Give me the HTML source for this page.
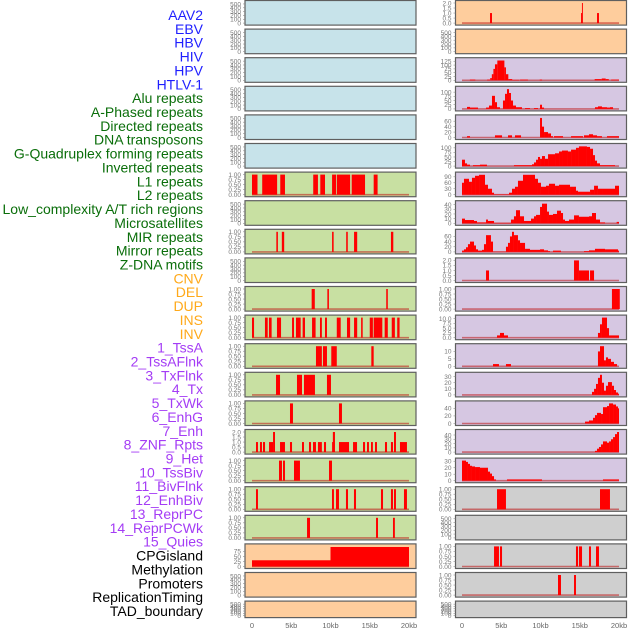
<!DOCTYPE html>
<html><head><meta charset="utf-8">
<style>
html,body{margin:0;padding:0;background:#fff;}
svg{display:block;font-family:"Liberation Sans",sans-serif;}
</style></head>
<body>
<svg id="chart" width="630" height="630" viewBox="0 0 630 630" xmlns="http://www.w3.org/2000/svg"></svg>
<script>
// ---- labels ----
const trackLabels = ["AAV2","EBV","HBV","HIV","HPV","HTLV-1","Alu repeats","A-Phased repeats","Directed repeats","DNA transposons","G-Quadruplex forming repeats","Inverted repeats","L1 repeats","L2 repeats","Low_complexity A/T rich regions","Microsatellites","MIR repeats","Mirror repeats","Z-DNA motifs","CNV","DEL","DUP","INS","INV","1_TssA","2_TssAFlnk","3_TxFlnk","4_Tx","5_TxWk","6_EnhG","7_Enh","8_ZNF_Rpts","9_Het","10_TssBiv","11_BivFlnk","12_EnhBiv","13_ReprPC","14_ReprPCWk","15_Quies","CPGisland","Methylation","Promoters","ReplicationTiming","TAD_boundary"];
const labelGroups = ["virus","virus","virus","virus","virus","virus","rep","rep","rep","rep","rep","rep","rep","rep","rep","rep","rep","rep","rep","sv","sv","sv","sv","sv","hmm","hmm","hmm","hmm","hmm","hmm","hmm","hmm","hmm","hmm","hmm","hmm","hmm","hmm","hmm","oth","oth","oth","oth","oth"];
const xTickValues = [0,5,10,15,20];
const xTickLabels = ["0","5kb","10kb","15kb","20kb"];

// ---- tick sets ----
const ticksEmpty = [0,100,200,300,400,500];
const ticksUnit = [0,0.25,0.5,0.75,1];
const ticksUnitLbl = ["0.00","0.25","0.50","0.75","1.00"];
const ticksTwo = [0,0.5,1,1.5,2];
const ticksTwoLbl = ["0.0","0.5","1.0","1.5","2.0"];

// ---- left column data [startKb,endKb,value] ----
const leftL1 = [[0,0.7,1],[1.3,3.2,1],[3.6,4.2,1],[7.8,8.4,1],[8.7,9.3,1],[10.2,10.7,1],[10.8,12.5,1],[12.7,14.4,1],[15.5,16,1]];
const leftRow8 = [[3.1,3.3,1],[3.8,4.1,1],[10.2,10.4,1],[12.0,12.2,1],[13.0,13.4,1],[17.7,18.0,1]];
const leftRow10 = [[7.6,8.0,1],[9.6,9.8,1],[17.1,17.3,1]];
const leftRow11 = [[0,0.26,1],[1.65,2.0,1],[2.16,2.5,1],[3.18,3.7,1],[5.1,5.35,1],[5.6,6.2,1],[6.45,6.75,1],[7.65,8.1,1],[8.66,8.9,1],[9.3,9.55,1],[10.8,11.3,1],[12.1,12.5,1],[13.0,13.4,1],[13.9,14.1,1],[15.0,15.4,1],[15.5,16.6,1],[16.9,17.3,1],[17.8,18.2,1],[18.5,18.8,1]];
const leftRow12 = [[8.15,8.9,1],[9.04,9.55,1],[10.1,10.8,1],[15.2,15.5,1]];
const leftRow13 = [[3.06,3.57,1],[5.73,6.37,1],[6.62,8.02,1],[9.55,10.06,1]];
const leftRow14 = [[4.84,5.22,1],[11.08,11.46,1]];
const leftRow15 = [[0.51,0.76,1],[1.02,1.27,1],[1.4,1.66,1],[2.17,2.42,1],[2.42,2.68,1],[2.68,2.93,2],[3.57,4.2,1],[4.84,5.1,1],[6.37,6.62,1],[7.26,7.52,1],[7.77,8.15,1],[8.4,8.9,1],[9.17,9.43,1],[10.19,10.3,1],[10.3,10.57,2],[11.08,12.36,1],[12.87,13.38,1],[14.14,14.4,1],[14.65,14.9,1],[15.16,15.4,1],[15.67,15.92,1],[16.94,17.2,1],[17.7,17.96,1],[18.09,18.34,2],[18.85,19.74,1]];
const leftRow16 = [[3.44,3.82,1],[3.95,4.2,1],[5.35,6.11,1],[9.81,10.19,1]];
const leftRow17 = [[0.51,0.76,1],[10.19,10.44,1],[10.7,11.08,1],[11.97,12.23,1],[12.99,13.25,1],[16.43,16.69,1],[17.7,17.96,1],[18.09,18.34,1],[19.36,19.74,1]];
const leftRow18 = [[7.01,7.39,1],[15.8,16.05,1],[17.96,18.2,1]];
const leftMethyl = [[0,10,31],[10,20,97]];

// ---- right column data ----
const rightAAV2 = [[3.57,3.82,1],[15.16,15.28,1],[15.28,15.4,2],[17.2,17.45,1]];
const rightHIV = [[1.0,1.7,5],[3.2,3.6,5],[3.6,3.8,15],[3.8,4.0,40],[4.0,4.2,75],[4.2,4.5,105],[4.5,5.4,130],[5.4,5.6,85],[5.6,5.9,40],[5.9,6.4,8],[6.4,7.3,3],[7.4,8.4,5],[9.9,10.2,5],[16.9,17.8,8],[17.8,18.3,12],[18.3,18.7,8],[19.0,20,5]];
const rightAlu = [[0.64,1.02,12],[1.02,2.04,8],[3.06,3.44,8],[3.44,3.82,20],[3.82,4.2,78],[4.2,4.46,40],[4.46,4.84,10],[5.22,5.48,50],[5.48,5.73,90],[5.73,5.99,118],[5.99,6.24,95],[6.24,6.5,50],[6.5,6.88,20],[6.88,7.64,10],[8.03,8.66,5],[9.17,9.68,5],[9.94,10.19,25],[10.19,10.45,8],[16.94,17.32,10],[17.32,17.83,15],[17.83,18.47,10],[18.47,18.85,8],[18.85,19.24,10]];
const rightAPhased = [[0.64,1.02,5],[4.2,5.1,8],[5.86,6.37,8],[6.75,7.52,8],[9.94,10.19,72],[10.19,10.45,40],[10.45,10.96,20],[10.96,11.34,15],[11.34,11.59,5],[11.72,12.87,5],[13.89,15.41,5],[15.54,16.18,8],[16.18,16.69,12],[16.69,17.2,8],[17.2,17.83,5],[18.47,20,5]];
const rightDNAtrans = [[0,0.38,35],[0.38,0.64,15],[0.64,1.02,8],[1.4,2.29,5],[2.29,3.18,8],[6.62,8.92,5],[8.92,9.17,10],[9.17,9.43,20],[9.43,9.68,35],[9.68,9.94,50],[9.94,10.19,40],[10.19,10.57,55],[10.57,10.96,40],[10.96,11.85,65],[11.85,12.36,70],[12.36,12.74,80],[12.74,13.5,85],[13.5,13.89,80],[13.89,14.52,90],[14.52,14.9,100],[14.9,15.92,108],[15.92,16.31,105],[16.31,16.69,95],[16.69,16.94,60],[16.94,17.2,30],[17.2,17.58,15],[17.58,17.96,5],[17.96,19.49,5]];
const rightL1 = [[0,0.25,60],[0.25,0.89,80],[0.89,1.27,65],[1.27,1.66,85],[1.66,2.17,95],[2.17,2.93,100],[2.93,3.31,50],[3.31,3.82,30],[3.82,4.08,10],[4.08,5.99,2],[5.99,6.37,10],[6.37,6.75,30],[6.75,7.13,40],[7.13,7.77,70],[7.77,9.3,100],[9.3,9.68,80],[9.68,10.06,60],[10.06,10.7,40],[10.7,11.08,45],[11.08,11.85,55],[11.85,12.36,45],[12.36,13.76,50],[13.76,14.52,40],[14.52,14.78,20],[14.78,16.31,15],[16.31,16.82,25],[16.82,17.32,45],[17.32,17.96,30],[17.96,19.49,30],[19.49,20,45]];
const rightL2 = [[0,0.38,10],[0.38,1.53,7],[1.53,1.91,5],[1.91,3.06,2],[3.06,3.31,8],[3.31,4.08,5],[4.08,6.24,1],[6.24,6.62,8],[6.62,6.88,15],[6.88,7.39,28],[7.39,7.9,15],[7.9,8.79,5],[8.79,9.17,10],[9.17,9.43,15],[9.43,9.94,18],[9.94,10.19,35],[10.19,10.83,42],[10.83,11.08,25],[11.08,11.59,18],[11.59,12.1,20],[12.1,12.61,27],[12.61,12.87,22],[12.87,13.12,8],[13.12,13.63,5],[13.63,14.27,8],[14.27,14.9,17],[14.9,16.18,14],[16.18,16.56,15],[16.56,17.07,22],[17.07,17.58,8],[17.58,18.22,2],[19.7,20,3]];
const rightLowComp = [[0,0.25,5],[0.25,0.51,10],[0.51,0.76,18],[0.76,1.02,30],[1.02,1.53,40],[1.53,1.78,25],[1.78,2.04,10],[2.04,2.55,5],[2.55,2.8,8],[2.8,3.06,30],[3.06,3.69,65],[3.69,3.95,40],[3.95,5.6,1],[5.6,5.86,20],[5.86,6.11,35],[6.11,6.37,60],[6.37,6.62,78],[6.62,7.13,65],[7.13,7.39,45],[7.39,8.03,35],[8.03,8.66,12],[8.66,9.94,8],[9.94,10.45,10],[10.45,10.96,6],[10.96,11.21,3],[11.59,12.61,5],[15.54,16.18,3],[16.18,16.94,6],[16.94,18.22,12],[18.22,19.87,10],[19.87,20,5]];
const rightZDNA = [[3.06,3.44,1],[14.27,14.9,2],[14.9,16.18,1],[16.31,16.82,1]];
const rightCNV = [[19.1,20.1,1]];
const rightDEL = [[4.46,4.84,1.2],[4.84,5.35,2.5],[5.35,5.86,1.2],[17.32,17.58,2.5],[17.58,17.83,7],[17.83,18.47,10.5],[18.47,18.73,5],[18.73,20,1.2]];
const rightDUP = [[3.95,4.71,1.5],[5.6,6.24,1.5],[17.32,17.58,10],[17.58,18.09,13.5],[18.09,18.34,4],[18.34,18.6,6],[18.6,18.98,5],[18.98,19.36,3],[19.36,19.75,1.5]];
const rightINS = [[16.56,16.82,5],[16.82,17.07,10],[17.07,17.32,18],[17.32,17.58,28],[17.58,17.83,33],[17.83,18.09,20],[18.09,18.34,7],[18.34,18.6,15],[18.6,19.1,21],[19.1,19.36,15],[19.36,19.62,8],[19.62,19.87,4],[19.87,20,2]];
const rightINV = [[15.67,16.18,5],[16.18,16.69,8],[16.69,16.94,15],[16.94,17.2,22],[17.2,17.71,28],[17.71,17.96,25],[17.96,18.47,43],[18.47,18.73,46],[18.73,19.24,53],[19.24,19.62,50],[19.62,19.87,45],[19.87,20,40]];
const rightTssA = [[16.94,17.2,3],[17.2,17.45,8],[17.45,17.71,12],[17.71,17.96,18],[17.96,18.47,25],[18.47,18.73,22],[18.73,18.98,25],[18.98,19.24,30],[19.24,19.49,35],[19.49,19.75,42],[19.75,20,47]];
const rightTssAFlnk = [[0,0.51,31],[0.51,0.76,29],[0.76,1.02,26],[1.02,1.27,23],[1.27,1.66,22],[1.66,2.29,21],[2.29,3.31,20],[3.31,3.57,14],[3.57,3.82,11],[3.82,4.08,7],[4.08,4.33,2],[5.73,10.19,2],[17.96,20,2]];
const rightRow17 = [[4.46,5.6,1],[17.58,18.85,1]];
const rightRow19 = [[4.08,4.71,1],[4.84,5.1,1],[14.52,14.78,1],[14.9,15.29,1],[16.18,16.43,1],[17.07,17.45,1]];
const rightRow20 = [[12.23,12.61,1],[14.27,14.52,1]];

const C = {blue:"#c7e3ea",green:"#c8e0a2",orange:"#fecd9d",purple:"#d6c7e2",gray:"#cfcfcf"};
// [column,row,bg,data,ticks,tickLabels,max]
const panels = [];
for(let r=0;r<6;r++) panels.push(["L",r,C.blue,null,ticksEmpty,null,525]);
const leftBars = {6:leftL1,8:leftRow8,10:leftRow10,11:leftRow11,12:leftRow12,13:leftRow13,14:leftRow14,16:leftRow16,17:leftRow17,18:leftRow18};
for(let r=6;r<19;r++){
  if(r===15) panels.push(["L",r,C.green,leftRow15,ticksTwo,ticksTwoLbl,2.0]);
  else if(leftBars[r]) panels.push(["L",r,C.green,leftBars[r],ticksUnit,ticksUnitLbl,1.0]);
  else panels.push(["L",r,C.green,null,ticksEmpty,null,525]);
}
panels.push(["L",19,C.orange,leftMethyl,[0,25,50,75],null,100]);
panels.push(["L",20,C.orange,null,ticksEmpty,null,525]);
panels.push(["L",21,C.orange,null,ticksEmpty,null,525]);
panels.push(["R",0,C.orange,rightAAV2,ticksTwo,ticksTwoLbl,2.0]);
panels.push(["R",1,C.orange,null,ticksEmpty,null,525]);
panels.push(["R",2,C.purple,rightHIV,[0,25,50,75,100,125],null,132]);
panels.push(["R",3,C.purple,rightAlu,[0,25,50,75,100],null,120]);
panels.push(["R",4,C.purple,rightAPhased,[0,20,40,60],null,74]);
panels.push(["R",5,C.purple,rightDNAtrans,[0,25,50,75,100],null,110]);
panels.push(["R",6,C.purple,rightL1,[0,30,60,90],null,101]);
panels.push(["R",7,C.purple,rightL2,[0,10,20,30,40],null,43]);
panels.push(["R",8,C.purple,rightLowComp,[0,20,40,60],null,78]);
panels.push(["R",9,C.purple,rightZDNA,ticksTwo,ticksTwoLbl,2.0]);
panels.push(["R",10,C.purple,rightCNV,ticksUnit,ticksUnitLbl,1.0]);
panels.push(["R",11,C.purple,rightDEL,[0,2.5,5,7.5,10],["0.0","2.5","5.0","7.5","10.0"],10.5]);
panels.push(["R",12,C.purple,rightDUP,[0,5,10],null,13.5]);
panels.push(["R",13,C.purple,rightINS,[0,10,20,30],null,33]);
panels.push(["R",14,C.purple,rightINV,[0,20,40],null,53]);
panels.push(["R",15,C.purple,rightTssA,[0,10,20,30,40],null,47]);
panels.push(["R",16,C.purple,rightTssAFlnk,[0,10,20,30],null,31]);
panels.push(["R",17,C.gray,rightRow17,ticksUnit,ticksUnitLbl,1.0]);
panels.push(["R",18,C.gray,null,ticksEmpty,null,525]);
panels.push(["R",19,C.gray,rightRow19,ticksUnit,ticksUnitLbl,1.0]);
panels.push(["R",20,C.gray,rightRow20,ticksUnit,ticksUnitLbl,1.0]);
panels.push(["R",21,C.gray,null,ticksEmpty,null,525]);

const NS="http://www.w3.org/2000/svg";
const svg=document.getElementById("chart");
function mk(tag,attrs,parent){const e=document.createElementNS(NS,tag);for(const k in attrs)e.setAttribute(k,attrs[k]);(parent||svg).appendChild(e);return e;}

const groupColor={virus:"#1f1fff",rep:"#0a6e0a",sv:"#ffa91a",hmm:"#a43cf5",oth:"#000"};
trackLabels.forEach((t,i)=>{
  const e=mk("text",{x:203,y:15+i*13.86+5,"text-anchor":"end","font-size":"14",fill:groupColor[labelGroups[i]]});
  e.textContent=t;
  
  
});

const colGeom={L:{px:245,pw:171,x0:252,tx:241},R:{px:455.5,pw:171,x0:462,tx:451.5}};
const KB=7.85;
panels.forEach(p=>{
  const [col,row,bg,data,ticks,tlbl,max]=p;
  const g=colGeom[col];
  const top=row*28.6+0.5, h=row===21?16.5:24.6;
  const grp=mk("g",{});
  
  
  mk("rect",{x:g.px,y:top,width:g.pw,height:h,fill:bg},grp);
  const yb=top+h-2, span=h-4.5;
  const ys=v=>yb-v/max*span;
  const xs=kb=>g.x0+kb*KB;
  if(data){
    mk("line",{x1:xs(0),x2:xs(20),y1:yb,y2:yb,stroke:"rgba(190,20,20,0.55)","stroke-width":1.6},grp);
    data.forEach(d=>{
      const r=mk("rect",{x:xs(d[0]),y:ys(d[2]),width:Math.max(0.8,xs(d[1])-xs(d[0])),height:yb-ys(d[2]),fill:"#ff0000"},grp);
      
      
    });
  }
  mk("rect",{x:g.px,y:top,width:g.pw,height:h,fill:"none",stroke:"#5f5f5f","stroke-width":1.2},grp);
  ticks.forEach((t,i)=>{
    const y=ys(t);
    mk("line",{x1:g.px-2,x2:g.px,y1:y,y2:y,stroke:"#888","stroke-width":0.6},grp);
    const e=mk("text",{x:g.tx,y:y+2.3,"text-anchor":"end","font-size":"6.5",fill:"#777"},grp);
    e.textContent=tlbl?tlbl[i]:String(t);
    
    
  });
});
["L","R"].forEach(c=>{
  const g=colGeom[c];
  xTickValues.forEach((v,i)=>{
    const e=mk("text",{x:g.x0+v*KB,y:628,"text-anchor":"middle","font-size":"7.5",fill:"#666"});
    e.textContent=xTickLabels[i];
    
    
  });
});
</script>
</body></html>
